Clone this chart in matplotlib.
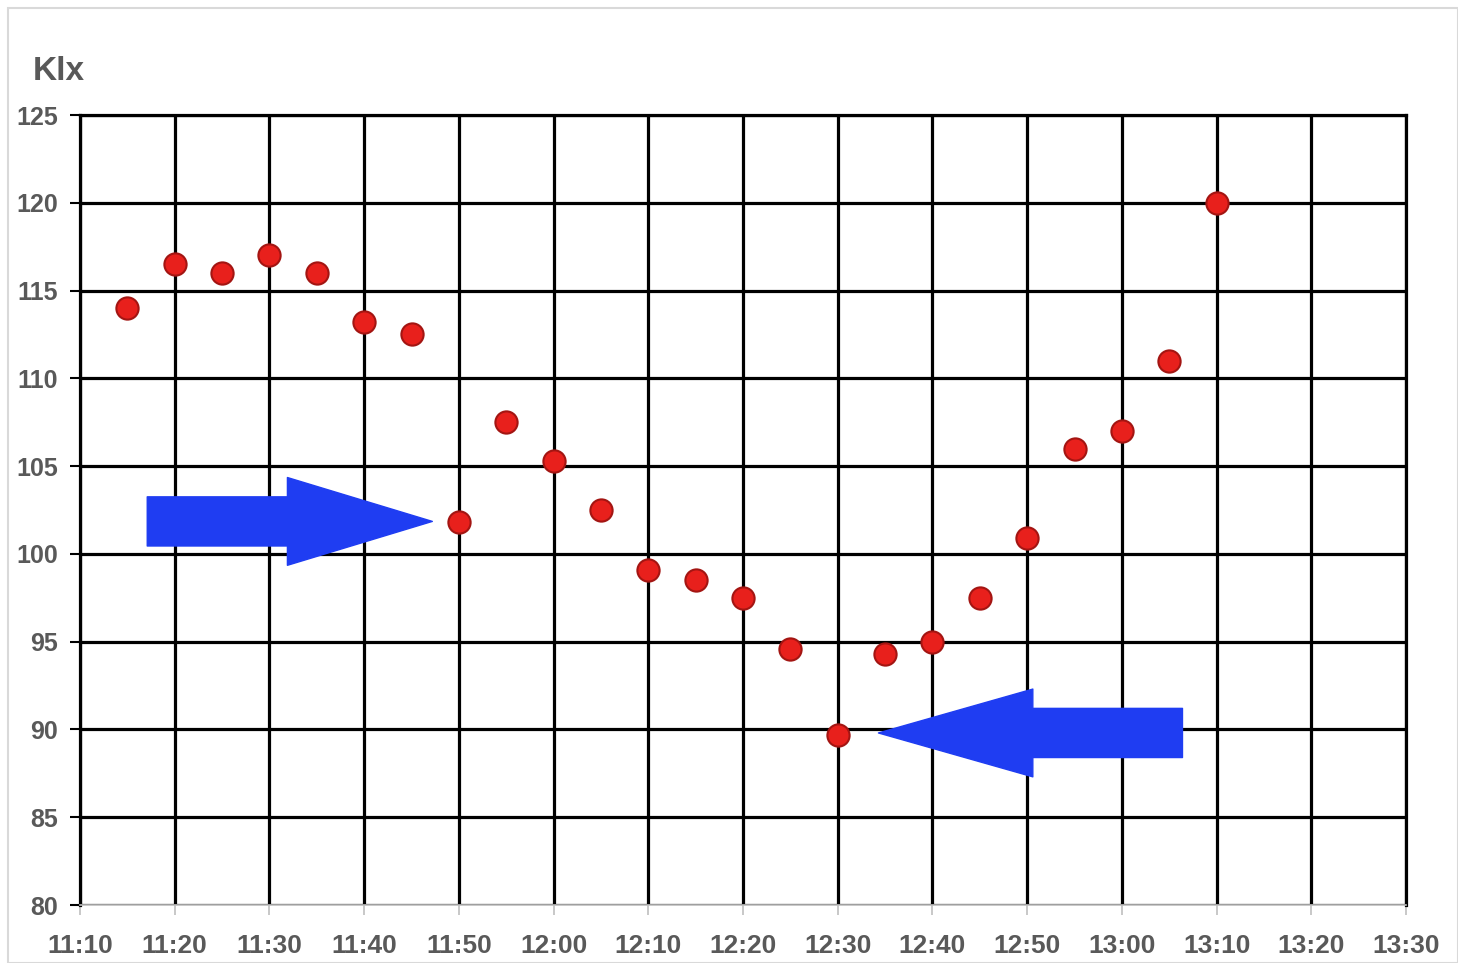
from matplotlib import pyplot as plt
from matplotlib.patches import Polygon, Rectangle

# minutes after 11:10
minutes = [5, 10, 15, 20, 25, 30, 35, 40, 45, 50, 55, 60, 65, 70, 75, 80,
           85, 90, 95, 100, 105, 110, 115, 120]
klx = [114, 116.5, 116, 117, 116, 113.2, 112.5, 101.8, 107.5, 105.3, 102.5,
       99.1, 98.5, 97.5, 94.6, 89.7, 94.3, 95.0, 97.5, 100.9, 106, 107, 111, 120]

tick_minutes = list(range(0, 141, 10))
tick_labels = ["11:10", "11:20", "11:30", "11:40", "11:50", "12:00", "12:10", "12:20",
               "12:30", "12:40", "12:50", "13:00", "13:10", "13:20", "13:30"]
y_ticks = list(range(80, 126, 5))

label_color = "#595959"
arrow_color = "#1f3df2"

fig = plt.figure(figsize=(14.58, 9.63), dpi=100)
ax = fig.add_axes([80 / 1458, 58 / 963, 1326 / 1458, 790 / 963])

# faint outer border of the picture
fig.patches.append(Rectangle((8 / 1458, 0), 1 - 8 / 1458, 1 - 8 / 963, transform=fig.transFigure,
                             fill=False, edgecolor="#d9d9d9", linewidth=1.5))

ax.set_xlim(0, 140)
ax.set_ylim(80, 125)
ax.set_xticks(tick_minutes)
ax.set_xticklabels(tick_labels)
ax.set_yticks(y_ticks)

ax.grid(True, color="black", linewidth=2.3)
ax.set_axisbelow(True)
for side in ["top", "right", "left"]:
    ax.spines[side].set_color("black")
    ax.spines[side].set_linewidth(2.3)
ax.spines["bottom"].set_color("#bfbfbf")
ax.spines["bottom"].set_linewidth(1.2)

ax.tick_params(axis="x", colors="#bfbfbf", length=7, width=1.2, pad=14)
ax.tick_params(axis="y", colors="black", length=7, width=1.5, pad=9)
for lab in ax.get_xticklabels():
    lab.set_fontsize(19)
for lab in ax.get_yticklabels():
    lab.set_fontsize(18)
for lab in ax.get_xticklabels() + ax.get_yticklabels():
    lab.set_color(label_color)
    lab.set_fontfamily("Liberation Sans")
    lab.set_fontweight("bold")

# the two block arrows
shaft, head = 1.4, 2.5
a1 = [(7.1, 101.85 + shaft), (21.9, 101.85 + shaft), (21.9, 101.85 + head), (37.2, 101.85),
      (21.9, 101.85 - head), (21.9, 101.85 - shaft), (7.1, 101.85 - shaft)]
a2 = [(116.4, 89.8 + shaft), (100.6, 89.8 + shaft), (100.6, 89.8 + head), (84.3, 89.8),
      (100.6, 89.8 - head), (100.6, 89.8 - shaft), (116.4, 89.8 - shaft)]
for pts in [a1, a2]:
    ax.add_patch(Polygon(pts, closed=True, facecolor=arrow_color, edgecolor=arrow_color,
                         linewidth=1, joinstyle="round", zorder=3))

ax.plot(minutes, klx, linestyle="none", marker="o", markersize=16,
        markerfacecolor="#e8201c", markeredgecolor="#a31512", markeredgewidth=1.5,
        zorder=4, clip_on=False)

fig.text(33 / 1458, 1 - 72 / 963, "Klx", fontsize=24, fontweight="bold", color=label_color,
         fontfamily="Liberation Sans", va="center", ha="left")

fig.savefig("out.png", dpi=100, facecolor="white")
